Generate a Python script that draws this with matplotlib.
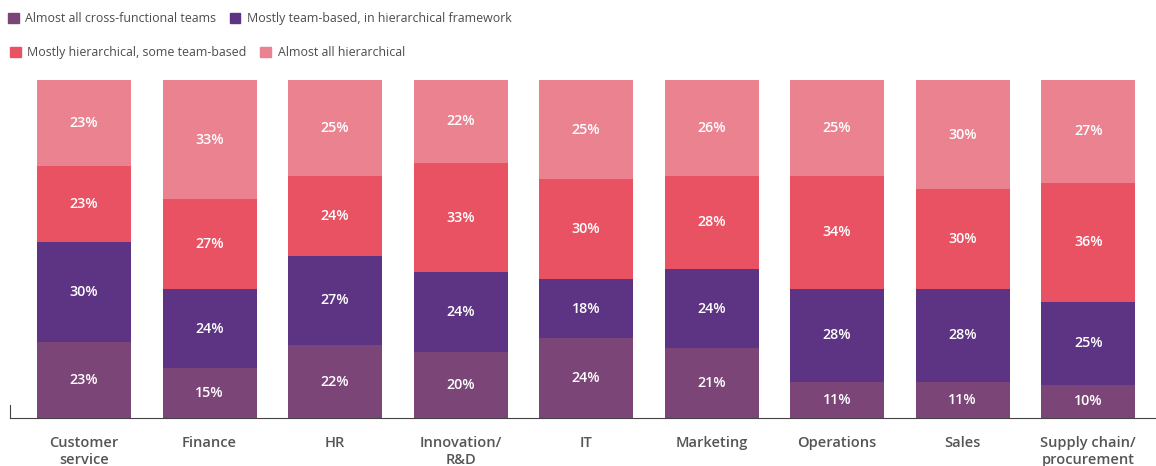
import numpy as np
import matplotlib
matplotlib.use("Agg")
import matplotlib.pyplot as plt
from matplotlib.patches import Patch

plt.rcParams["font.family"] = ["Open Sans", "DejaVu Sans"]

categories = ["Customer\nservice", "Finance", "HR", "Innovation/\nR&D", "IT",
              "Marketing", "Operations", "Sales", "Supply chain/\nprocurement"]
cross_functional = [23, 15, 22, 20, 24, 21, 11, 11, 10]
team_based = [30, 24, 27, 24, 18, 24, 28, 28, 25]
mostly_hier = [23, 27, 24, 33, 30, 28, 34, 30, 36]
all_hier = [23, 33, 25, 22, 25, 26, 25, 30, 27]

series = [
    ("Almost all cross-functional teams", cross_functional, "#7c4578"),
    ("Mostly team-based, in hierarchical framework", team_based, "#5d3483"),
    ("Mostly hierarchical, some team-based", mostly_hier, "#e85262"),
    ("Almost all hierarchical", all_hier, "#ea8290"),
]

# the chart stacks the first three shares as given; the last one fills to the top
TOP = 102.0
x = np.arange(len(categories))

fig = plt.figure(figsize=(11.56, 4.66), dpi=100)
ax = fig.add_axes([10 / 1156, 48 / 466, 1 - 10 / 1156, 338 / 466])

bottom = np.zeros(len(categories))
for i, (name, raw, col) in enumerate(series):
    raw = np.array(raw, float)
    h = raw if i < len(series) - 1 else TOP - bottom
    ax.bar(x, h, bottom=bottom, width=0.75, color=col, linewidth=0)
    for xi, b, hh, r in zip(x, bottom, h, raw):
        ax.text(xi, b + hh / 2, f"{r:.0f}%", ha="center", va="center",
                color="white", fontsize=10.3, fontweight="semibold")
    bottom += h

ax.set_xlim(-0.59, 8.54)
ax.set_ylim(0, TOP)
ax.set_yticks([])
ax.set_xticks(x)
ax.set_xticklabels(categories, fontsize=10.5, fontweight="semibold", color="#555555",
                   linespacing=1.25)
ax.tick_params(axis="x", length=0, pad=13)
for s in ["top", "right"]:
    ax.spines[s].set_visible(False)
ax.spines["bottom"].set_color("#444444")
ax.spines["left"].set_color("#444444")
ax.spines["left"].set_bounds(0, 4)

handles = [Patch(color=c, label=n) for n, _, c in series]
leg_kw = dict(frameon=False, fontsize=8.9, labelcolor="#4d4d4d", handlelength=0.85,
              handleheight=0.85, handletextpad=0.55, columnspacing=1.1, ncol=2,
              borderaxespad=0, borderpad=0)
fig.legend(handles=handles[:2], loc="upper left",
           bbox_to_anchor=(8 / 1156, 1 - 12 / 466), **leg_kw)
fig.legend(handles=handles[2:], loc="upper left",
           bbox_to_anchor=(10 / 1156, 1 - 46 / 466), **leg_kw)

fig.savefig("out.png", dpi=100)
